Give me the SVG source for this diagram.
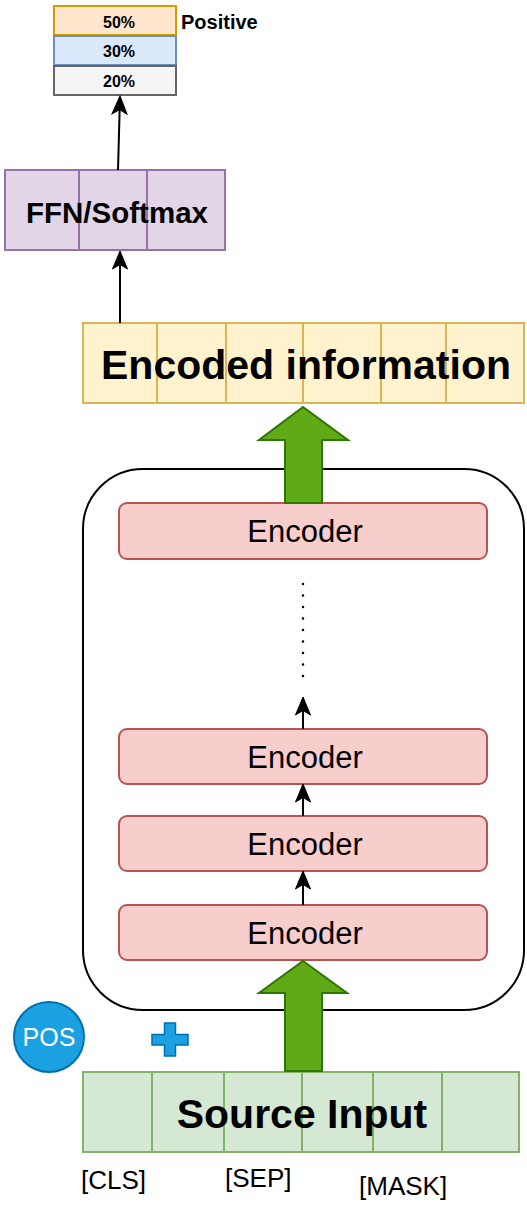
<svg xmlns="http://www.w3.org/2000/svg" width="527" height="1206" viewBox="0 0 527 1206">
<style>
text{font-family:"Liberation Sans",Arial,sans-serif;fill:#000}
.b{font-weight:bold}
.enc rect{fill:#f8cecc;stroke:#b85450;stroke-width:2}
.enc text{font-size:31px;text-anchor:middle}
.conn line{stroke:#000;stroke-width:2;fill:none}
.big{fill:#60a917;stroke:#2d7600;stroke-width:2}
.div{stroke-width:2}
</style>
<defs>
<marker id="ah" markerUnits="userSpaceOnUse" markerWidth="20" markerHeight="18" viewBox="0 0 20 18" refX="18" refY="9" orient="auto">
<path d="M19,9 L1,1.5 L5.5,9 L1,16.5 Z" fill="#000" stroke="#000" stroke-width="1"/>
</marker>
</defs>
<rect width="527" height="1206" fill="#fff"/>

<g id="container">
<rect x="83" y="469" width="441" height="541" rx="60" ry="60" fill="#fff" stroke="#000" stroke-width="2"/>
</g>

<g id="probs">
<rect x="54" y="6" width="122" height="29" fill="#ffe6cc" stroke="#d79b00" stroke-width="2"/>
<rect x="54" y="36" width="122" height="29" fill="#dae8fc" stroke="#6c8ebf" stroke-width="2"/>
<rect x="54" y="66" width="122" height="29" fill="#f5f5f5" stroke="#666666" stroke-width="2"/>
<text x="119" y="28" class="b" font-size="16" text-anchor="middle">50%</text>
<text x="119" y="57" class="b" font-size="16" text-anchor="middle">30%</text>
<text x="119" y="87" class="b" font-size="16" text-anchor="middle">20%</text>
</g>
<g id="positive"><text x="181" y="29" class="b" font-size="20">Positive</text></g>

<g id="ffn">
<rect x="5" y="170" width="220" height="80" fill="#e1d5e7" stroke="#9673a6" stroke-width="2"/>
<line x1="79" y1="170" x2="79" y2="250" stroke="#9673a6" class="div"/>
<line x1="147" y1="170" x2="147" y2="250" stroke="#9673a6" class="div"/>
<text x="117" y="223" class="b" font-size="29.5" text-anchor="middle">FFN/Softmax</text>
</g>

<g id="encoded">
<rect x="83" y="323" width="441" height="80" fill="#fff2cc" stroke="#d6b656" stroke-width="2"/>
<g stroke="#d6b656" class="div">
<line x1="157" y1="323" x2="157" y2="403"/>
<line x1="226" y1="323" x2="226" y2="403"/>
<line x1="303" y1="323" x2="303" y2="403"/>
<line x1="381" y1="323" x2="381" y2="403"/>
<line x1="446" y1="323" x2="446" y2="403"/>
</g>
<text x="306" y="379" class="b" font-size="41" text-anchor="middle">Encoded information</text>
</g>

<g id="encoder1" class="enc"><rect x="119" y="503" width="368" height="56" rx="8"/><text x="305" y="542">Encoder</text></g>
<g id="encoder2" class="enc"><rect x="119" y="729" width="368" height="55" rx="8"/><text x="305" y="768">Encoder</text></g>
<g id="encoder3" class="enc"><rect x="119" y="816" width="368" height="55" rx="8"/><text x="305" y="855">Encoder</text></g>
<g id="encoder4" class="enc"><rect x="119" y="905" width="368" height="55" rx="8"/><text x="305" y="944">Encoder</text></g>

<g id="source">
<rect x="83" y="1072" width="436" height="80" fill="#d5e8d4" stroke="#82b366" stroke-width="2"/>
<g stroke="#82b366" class="div">
<line x1="152" y1="1072" x2="152" y2="1152"/>
<line x1="224" y1="1072" x2="224" y2="1152"/>
<line x1="302" y1="1072" x2="302" y2="1152"/>
<line x1="373" y1="1072" x2="373" y2="1152"/>
<line x1="442" y1="1072" x2="442" y2="1152"/>
</g>
<text x="302" y="1128" class="b" font-size="41" text-anchor="middle">Source Input</text>
</g>

<g id="pos">
<circle cx="49" cy="1037" r="35" fill="#1ba1e2" stroke="#006eaf" stroke-width="2"/>
<text x="49" y="1046" font-size="25" text-anchor="middle" style="fill:#fff">POS</text>
</g>
<g id="plus">
<polygon points="164.5,1023 175.5,1023 175.5,1034.5 188,1034.5 188,1045 175.5,1045 175.5,1056 164.5,1056 164.5,1045 152,1045 152,1034.5 164.5,1034.5" fill="#1ba1e2" stroke="#006eaf" stroke-width="1.5"/>
</g>

<g id="labels">
<text x="81" y="1189" font-size="26">[CLS]</text>
<text x="225" y="1187" font-size="26">[SEP]</text>
<text x="359" y="1195" font-size="26">[MASK]</text>
</g>

<g id="connectors" class="conn">
<line x1="118" y1="170" x2="120" y2="97" marker-end="url(#ah)"/>
<line x1="120" y1="323" x2="120" y2="252" marker-end="url(#ah)"/>
<line x1="303" y1="905" x2="303" y2="872" marker-end="url(#ah)"/>
<line x1="303" y1="816" x2="303" y2="785" marker-end="url(#ah)"/>
<line x1="303" y1="729" x2="303" y2="698" marker-end="url(#ah)"/>
<line x1="303" y1="584" x2="303" y2="677" style="stroke-dasharray:0 11.5;stroke-linecap:round;stroke-width:2.5"/>
<polygon class="big" points="303,407 348,440 322,440 322,503 285,503 285,440 259,440"/>
<polygon class="big" points="303,961 347,993 322,993 322,1071 285,1071 285,993 259,993"/>
</g>
</svg>
